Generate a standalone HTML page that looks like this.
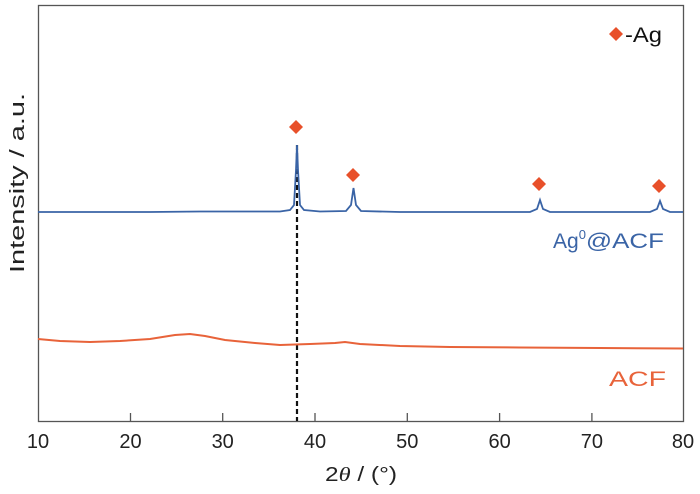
<!DOCTYPE html>
<html><head><meta charset="utf-8"><style>
body{margin:0;background:#fff}
svg{display:block}
text{font-family:"Liberation Sans",sans-serif}
</style></head><body>
<svg width="700" height="494" viewBox="0 0 700 494">
<rect x="38.5" y="5.5" width="645" height="416" fill="none" stroke="#555" stroke-width="1.3"/>
<g stroke="#555" stroke-width="1.3">
<line x1="130.5" y1="421" x2="130.5" y2="413"/>
<line x1="222.7" y1="421" x2="222.7" y2="413"/>
<line x1="315" y1="421" x2="315" y2="413"/>
<line x1="407.3" y1="421" x2="407.3" y2="413"/>
<line x1="499.6" y1="421" x2="499.6" y2="413"/>
<line x1="591.9" y1="421" x2="591.9" y2="413"/>
</g>
<g font-size="20" fill="#222" text-anchor="middle">
<text x="38" y="448">10</text><text x="130.5" y="448">20</text><text x="222.7" y="448">30</text><text x="315" y="448">40</text><text x="407.3" y="448">50</text><text x="499.6" y="448">60</text><text x="591.9" y="448">70</text><text x="683" y="448">80</text>
</g>
<text x="325" y="481" font-size="20" fill="#222" textLength="72" lengthAdjust="spacingAndGlyphs">2<tspan font-family="Liberation Serif" font-style="italic">θ</tspan> / (°)</text>
<text transform="translate(24,273) rotate(-90)" font-size="20" fill="#222" textLength="180" lengthAdjust="spacingAndGlyphs">Intensity / a.u.</text>
<line x1="297" y1="145" x2="297" y2="421" stroke="#111" stroke-width="2.2" stroke-dasharray="5,3"/>
<path d="M38,212 L150,212 L200,211.5 L280,211.5 L290,210 L294,205 L296,170 L297,145 L298,170 L300,205 L304,210 L320,211.5 L346,211 L351,205 L353.5,188 L356,205 L361,211 L400,212 L530,212 L537,209 L540,200 L543,209 L550,212 L650,212 L657,209 L660,201 L663,209 L670,212 L683,212" fill="none" stroke="#3a64a6" stroke-width="1.8"/>
<path d="M38,339 L60,341 L90,342 L120,341 L150,339 L175,335 L190,334 L205,336 L225,340 L255,343 L280,345 L310,344 L335,343 L345,342 L360,344 L400,346 L450,347 L520,347.5 L600,348 L683,348.5" fill="none" stroke="#e8633a" stroke-width="2"/>
<g fill="#e8502a">
<path d="M296,120 L303,127 L296,134 L289,127Z"/>
<path d="M353,168 L360,175 L353,182 L346,175Z"/>
<path d="M539,177 L546,184 L539,191 L532,184Z"/>
<path d="M659,179 L666,186 L659,193 L652,186Z"/>
<path d="M616,27 L623,34 L616,41 L609,34Z"/>
</g>
<text x="625" y="42" font-size="21" fill="#111" textLength="37" lengthAdjust="spacingAndGlyphs">-Ag</text>
<text x="553" y="248" font-size="21" fill="#3a64a6">Ag<tspan font-size="13" dy="-9">0</tspan><tspan dy="9" textLength="78" lengthAdjust="spacingAndGlyphs">@ACF</tspan></text>
<text x="609" y="386" font-size="21" fill="#e8633a" textLength="57" lengthAdjust="spacingAndGlyphs">ACF</text>
</svg>
</body></html>
